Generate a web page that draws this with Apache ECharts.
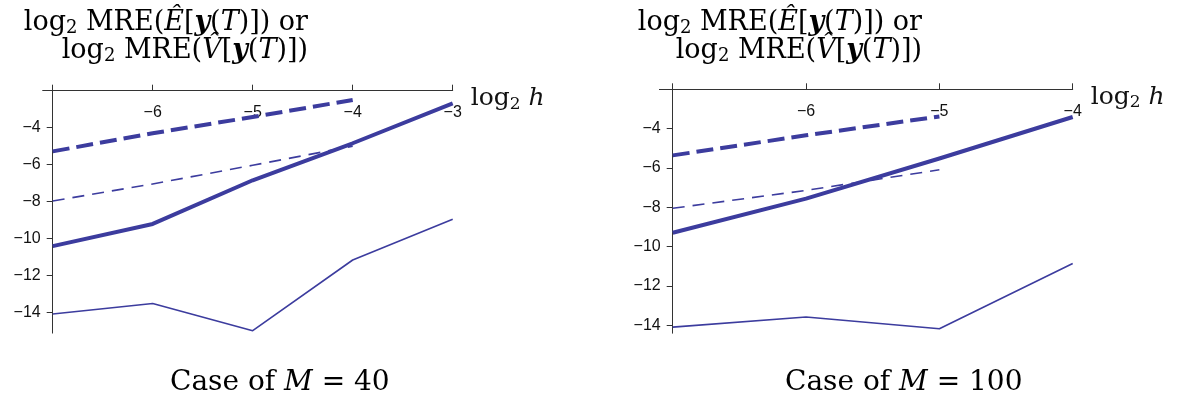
<!DOCTYPE html>
<html>
<head>
<meta charset="utf-8">
<script src="https://cdn.jsdelivr.net/npm/echarts@6/dist/echarts.min.js"></script>
<style>
html,body{margin:0;padding:0;background:#fff;}
#chart{width:1188px;height:403px;}
</style>
</head>
<body>
<div id="chart"></div>
<script>
// ---- data ----
const hLeft = [-7, -6, -5, -4, -3];
const hRight = [-7, -6, -5, -4];
const xTicksLeft = [-7, -6, -5, -4, -3];
const xLabelsLeft = [-6, -5, -4, -3];
const xTicksRight = [-7, -6, -5, -4];
const xLabelsRight = [-6, -5, -4];
const yTicks = [-14, -12, -10, -8, -6, -4];

const leftThickDashed = [-5.28, -4.30, -3.42, -2.50];
const leftThinDashed = [-7.96, -7.04, -6.03, -5.00];
const leftThickSolid = [-10.40, -9.20, -6.84, -4.84, -2.68];
const leftThinSolid = [-14.07, -13.50, -14.97, -11.15, -8.95];

const rightThickDashed = [-5.36, -4.34, -3.38];
const rightThinDashed = [-8.05, -7.14, -6.09];
const rightThickSolid = [-9.29, -7.56, -5.52, -3.41];
const rightThinSolid = [-14.09, -13.58, -14.17, -10.86];

const captions = ['40', '100'];

// ---- helpers ----
const COLOR = '#3c3c9e';
const pair = (xs, ys) => ys.map((v, i) => [xs[i], v]);
const minus = v => String(v).replace('-', '\u2212');

const serif = 'DejaVu Serif';
const rich = {
  n: {fontFamily: serif, fontSize: 27, lineHeight: 28, color: '#111', verticalAlign: 'middle'},
  s: {fontFamily: serif, fontSize: 18, lineHeight: 14, color: '#111', verticalAlign: 'bottom'},
  i: {fontFamily: serif, fontSize: 27, lineHeight: 28, fontStyle: 'italic', color: '#111', verticalAlign: 'middle'},
  b: {fontFamily: serif, fontSize: 27, lineHeight: 28, fontStyle: 'italic', fontWeight: 'bold', color: '#111', verticalAlign: 'middle'}
};
const xRich = {
  n: Object.assign({}, rich.n, {fontSize: 25}),
  s: Object.assign({}, rich.s, {fontSize: 17}),
  i: Object.assign({}, rich.i, {fontSize: 25})
};
const yTitle = '{n|log}{s|2}{n| MRE(}{i|\u00CA}{n|[}{b|y}{n|(}{i|T}{n|)]) or}\n' +
               '{n|log}{s|2}{n| MRE(}{i|V\u0302}{n|[}{b|y}{n|(}{i|T}{n|)])}';
const xName = '{n|log}{s|2}{n| }{i|h}';

function makeAxes(idx, xmin, xmax, ymin, xTicks, xLabels, off) {
  const axisLine = {onZero: false, lineStyle: {color: '#333', width: 1}};
  const x = {
    type: 'value', gridIndex: idx, position: 'top', min: xmin, max: xmax,
    axisLine: axisLine,
    axisTick: {show: true, length: 6, customValues: xTicks, lineStyle: {color: '#333'}},
    axisLabel: {inside: true, margin: 14, customValues: xLabels, formatter: minus,
      fontFamily: 'Liberation Sans', fontSize: 16, color: '#111'},
    splitLine: {show: false},
    name: xName, nameLocation: 'end', nameGap: 18,
    nameTextStyle: {rich: xRich, padding: [16, 0, 0, 0]}
  };
  const y = {
    type: 'value', gridIndex: idx, min: ymin, max: -2, offset: off,
    axisLine: axisLine,
    axisTick: {show: true, length: 6, customValues: yTicks, lineStyle: {color: '#333'}},
    axisLabel: {margin: 12, customValues: yTicks, formatter: minus,
      fontFamily: 'Liberation Sans', fontSize: 16, color: '#111'},
    splitLine: {show: false}
  };
  return [x, y];
}

const [xL, yL] = makeAxes(0, -7.1, -3, -15.1, xTicksLeft, xLabelsLeft, -10);
const [xR, yR] = makeAxes(1, -7.1, -4, -14.4, xTicksRight, xLabelsRight, -13.3);

function line(idx, xs, ys, width, dash) {
  return {
    type: 'line', xAxisIndex: idx, yAxisIndex: idx, data: pair(xs, ys),
    symbol: 'none', silent: true, animation: false,
    lineStyle: {color: COLOR, width: width, type: dash || 'solid', cap: 'butt', join: 'round'}
  };
}

const capRich = {
  c: {fontFamily: serif, fontSize: 28, color: '#111'},
  m: {fontFamily: serif, fontSize: 28, fontStyle: 'italic', color: '#111'}
};

const option = {
  animation: false,
  backgroundColor: '#fff',
  grid: [
    {left: 42.7, top: 90.7, width: 410, height: 242.4},
    {left: 659.4, top: 89.3, width: 413.3, height: 243.9}
  ],
  xAxis: [xL, xR],
  yAxis: [yL, yR],
  series: [
    line(0, hLeft, leftThinSolid, 1.6),
    line(0, hLeft, leftThinDashed, 1.6, [12, 8]),
    line(0, hLeft, leftThickSolid, 4),
    line(0, hLeft, leftThickDashed, 4, [17, 7]),
    line(1, hRight, rightThinSolid, 1.6),
    line(1, hRight, rightThinDashed, 1.6, [12, 8]),
    line(1, hRight, rightThickSolid, 4),
    line(1, hRight, rightThickDashed, 4, [17, 7])
  ],
  graphic: [
    {type: 'text', x: 308, y: 9, style: {text: yTitle, rich: rich, align: 'right', verticalAlign: 'top'}},
    {type: 'text', x: 922, y: 9, style: {text: yTitle, rich: rich, align: 'right', verticalAlign: 'top'}},
    {type: 'text', x: 170, y: 383, style: {
      text: '{c|Case of }{m|M}{c| = ' + captions[0] + '}', align: 'left', verticalAlign: 'middle', rich: capRich}},
    {type: 'text', x: 785, y: 383, style: {
      text: '{c|Case of }{m|M}{c| = ' + captions[1] + '}', align: 'left', verticalAlign: 'middle', rich: capRich}}
  ]
};

const chart = echarts.init(document.getElementById('chart'), null, {renderer: 'canvas'});
chart.setOption(option);
</script>
</body>
</html>
